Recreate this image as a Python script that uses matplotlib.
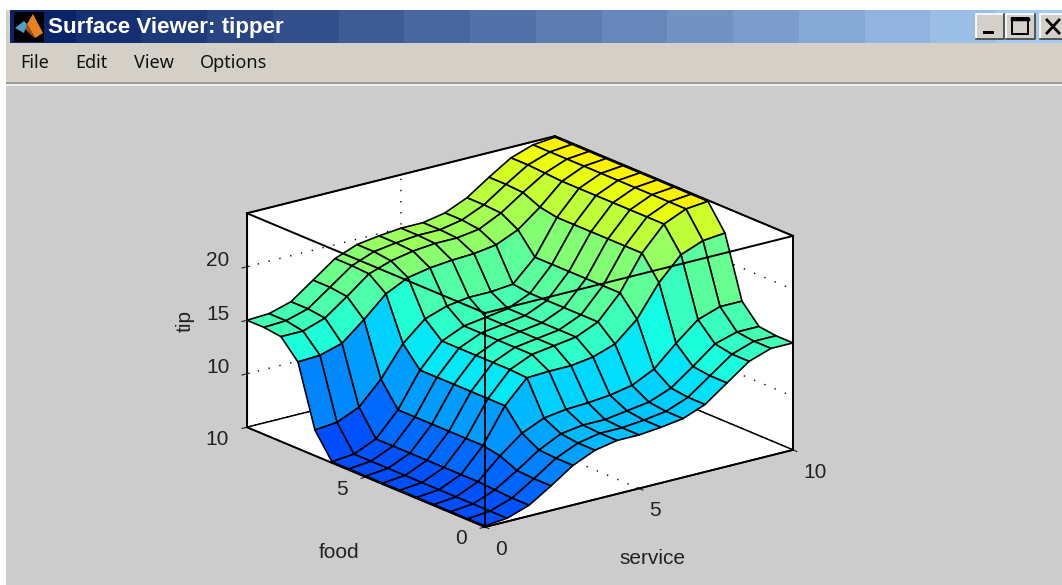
import matplotlib
matplotlib.use("Agg")
import matplotlib.pyplot as plt
import numpy as np
from matplotlib.patches import Polygon, Rectangle
from mpl_toolkits.mplot3d import proj3d

plt.rcParams['font.family'] = ['Liberation Sans', 'DejaVu Sans']

# 曲面数据 (行: food, 列: service)
service = np.linspace(0, 10, 15)
food = np.linspace(0, 10, 15)
tip_low = [5.1, 5.3, 6.0, 7.3, 8.7, 9.6, 10.0, 10.0, 10.2, 10.5, 11.3, 12.8, 14.3, 15.0, 15.0]
tip_f2 = [5.1, 5.3, 6.1, 7.4, 8.8, 9.8, 10.1, 10.1, 10.4, 10.7, 11.5, 13.0, 14.6, 15.2, 15.2]
tip_f3 = [5.1, 5.3, 6.2, 8.1, 9.7, 10.6, 10.9, 11.0, 11.2, 11.6, 12.6, 14.5, 16.2, 16.9, 16.9]
tip_f4 = [5.1, 5.3, 6.2, 8.4, 11.6, 13.7, 13.8, 13.8, 14.1, 14.8, 16.6, 19.5, 21.6, 22.4, 22.6]
tip_mid = [5.1, 5.3, 6.2, 8.4, 11.6, 13.8, 14.7, 15.0, 15.3, 16.2, 18.4, 21.6, 23.8, 24.7, 24.9]
tip_f10 = [7.4, 7.6, 8.5, 10.6, 13.4, 15.2, 15.9, 16.2, 16.2, 16.4, 18.4, 21.6, 23.8, 24.7, 24.9]
tip_f11 = [13.1, 13.2, 13.8, 15.5, 17.4, 18.4, 18.8, 19.0, 19.1, 19.4, 20.3, 21.9, 23.8, 24.7, 24.9]
tip_f12 = [14.8, 14.8, 15.5, 17.0, 18.6, 19.3, 19.7, 19.9, 19.9, 20.2, 21.2, 22.6, 23.9, 24.7, 24.9]
tip_high = [15.0, 15.1, 15.7, 17.2, 18.7, 19.5, 19.8, 20.0, 20.0, 20.4, 21.3, 22.7, 24.0, 24.7, 24.9]
tip = np.array([tip_low, tip_low, tip_f2, tip_f3, tip_f4, tip_mid, tip_mid, tip_mid, tip_mid,
                tip_mid, tip_f10, tip_f11, tip_f12, tip_high, tip_high])

menu_items = ['File', 'Edit', 'View', 'Options']
menu_x = [20, 75, 134, 200]

W, H = 1062, 585
fig = plt.figure(figsize=(W / 100, H / 100), dpi=100, facecolor='white')

# 窗口外框
bg = fig.add_axes([0, 0, 1, 1], zorder=0)
bg.axis('off')
bg.add_patch(Rectangle((6, 10), W, 34, fc='#d4d0c8', ec='none'))
bg.add_patch(Rectangle((6, 44), W, 38, fc='#d4d0c8', ec='none'))
bg.add_patch(Rectangle((6, 82), W, 2, fc='#9c9a92', ec='none'))
bg.add_patch(Rectangle((6, 84), W, 2, fc='#eeeeee', ec='none'))
bg.add_patch(Rectangle((6, 86), W, H, fc='#cccccc', ec='none'))

# 标题栏渐变
steps = 16
grad = np.linspace(0, 1, steps)[None, :, None]
start = np.array([10, 36, 106]) / 255
end = np.array([166, 202, 240]) / 255
bg.imshow(start + grad * (end - start), extent=(10, 1062, 43, 10), aspect='auto',
          interpolation='nearest', zorder=1)
bg.set_xlim(0, W)
bg.set_ylim(H, 0)

# 图标
bg.add_patch(Rectangle((14, 12), 30, 30, fc='black', ec='none', zorder=2))
bg.add_patch(Polygon([[33, 14], [43, 33], [35, 38], [27, 24]], fc='#e8821e', ec='none', zorder=3))
bg.add_patch(Polygon([[27, 24], [35, 38], [30, 34], [24, 28]], fc='#a8501a', ec='none', zorder=3))
bg.add_patch(Polygon([[15, 28], [24, 21], [27, 24], [24, 33]], fc='#4aa0c8', ec='none', zorder=3))

bg.text(48, 27.5, 'Surface Viewer: tipper', color='white', fontsize=16.1, fontweight='bold',
        va='center', ha='left', zorder=3)
for name, x in zip(menu_items, menu_x):
    bg.text(x, 63.5, name, color='#111111', fontsize=13, family=['Noto Sans', 'DejaVu Sans'],
            va='center', ha='left')

# 窗口按钮
for x0, x1 in [(976, 1004), (1006, 1035), (1040, 1066)]:
    bg.add_patch(Rectangle((x0, 14), x1 - x0, 25, fc='#d4d0c8', ec='none', zorder=2))
    bg.plot([x0, x0, x1], [39, 14, 14], color='white', lw=1.2, zorder=3)
    bg.plot([x0, x1, x1], [39, 39, 14], color='#404040', lw=1.2, zorder=3)
bg.add_patch(Rectangle((983, 31), 11, 3, fc='black', ec='none', zorder=3))
bg.add_patch(Rectangle((1012, 18), 16, 16, fc='none', ec='black', lw=1.4, zorder=3))
bg.plot([1012, 1028], [19, 19], color='black', lw=2.5, zorder=3)
bg.plot([1047, 1059], [20, 33], color='black', lw=2, zorder=3)
bg.plot([1047, 1059], [33, 20], color='black', lw=2, zorder=3)
bg.set_xlim(0, W)
bg.set_ylim(H, 0)

# 坐标轴标题
bg.text(339, 553, 'food', fontsize=15, color='#222222', ha='center', va='center')
bg.text(652, 558, 'service', fontsize=15, color='#222222', ha='center', va='center')
bg.text(185, 321, 'tip', fontsize=15, color='#222222', ha='center', va='center', rotation=90)

# 三维曲面
S = 600
ax = fig.add_axes([0.2, 0.0, S / W, S / H], projection='3d', computed_zorder=False, zorder=1)
ax.patch.set_visible(False)
ax.set_proj_type('ortho')
ax.view_init(elev=18.9, azim=-127.7)
ax.set_box_aspect((1, 1, 0.581))

X, Y = np.meshgrid(service, food)
colors = plt.cm.jet(0.2 + (tip - 5) / 20 * 0.46)
ax.plot_surface(X, Y, tip, facecolors=colors, rstride=1, cstride=1, shade=False,
                edgecolor='black', linewidth=1.2, antialiased=True, zorder=2)

ax.set_xlim(0, 10)
ax.set_ylim(0, 10)
ax.set_zlim(5, 25)
ax.set_xticks([0, 5, 10])
ax.set_yticks([0, 5, 10])
ax.set_zticks([10, 15, 20])
ax.zaxis.set_ticks_position('upper')
ax.tick_params(labelsize=15, colors='#222222')
ax.tick_params(axis='x', pad=1)
ax.tick_params(axis='y', pad=5)
ax.tick_params(axis='z', pad=-1)

for axis in (ax.xaxis, ax.yaxis, ax.zaxis):
    axis.set_pane_color('white')
    axis.pane.set_edgecolor('black')
    axis.line.set_color('black')
    axis._axinfo['grid'].update(color='black', linewidth=1.0, linestyle=(0, (1, 7)))

for tick in ax.get_xticklabels():
    tick.set_ha('left')
for tick in ax.get_yticklabels():
    tick.set_ha('right')
    tick.set_va('baseline')
for tick in ax.get_zticklabels():
    tick.set_ha('right')
    tick.set_va('baseline')

# 前面的盒子边线
corners = [([0, 0], [10, 0], [25, 25]), ([0, 10], [0, 0], [25, 25]), ([0, 0], [0, 0], [5, 25]),
           ([0, 0], [0, 10], [5, 5]), ([0, 10], [0, 0], [5, 5]),
           ([0, 0], [10, 10], [5, 25]), ([10, 10], [0, 0], [5, 25]),
           ([0, 10], [10, 10], [25, 25]), ([10, 10], [0, 10], [25, 25])]
for cx, cy, cz in corners:
    ax.plot(cx, cy, cz, color='black', lw=1.4, zorder=5)


# 把盒子对齐到目标位置
def px(x, y, z):
    xs, ys, _ = proj3d.proj_transform(x, y, z, ax.get_proj())
    return ax.transData.transform((xs, ys))


fig.canvas.draw()
front = px(0, 0, 5)
right = px(10, 0, 5)
ratio = 308 / (right[0] - front[0])
box = ax.get_window_extent()
center = np.array([box.x0 + box.width / 2, box.y0 + box.height / 2])
side = box.width * ratio
new_center = np.array([485, H - 527]) - (front - center) * ratio
ax.set_position([(new_center[0] - side / 2) / W, (new_center[1] - side / 2) / H, side / W, side / H])

fig.savefig('out.png', dpi=100, facecolor='white')
